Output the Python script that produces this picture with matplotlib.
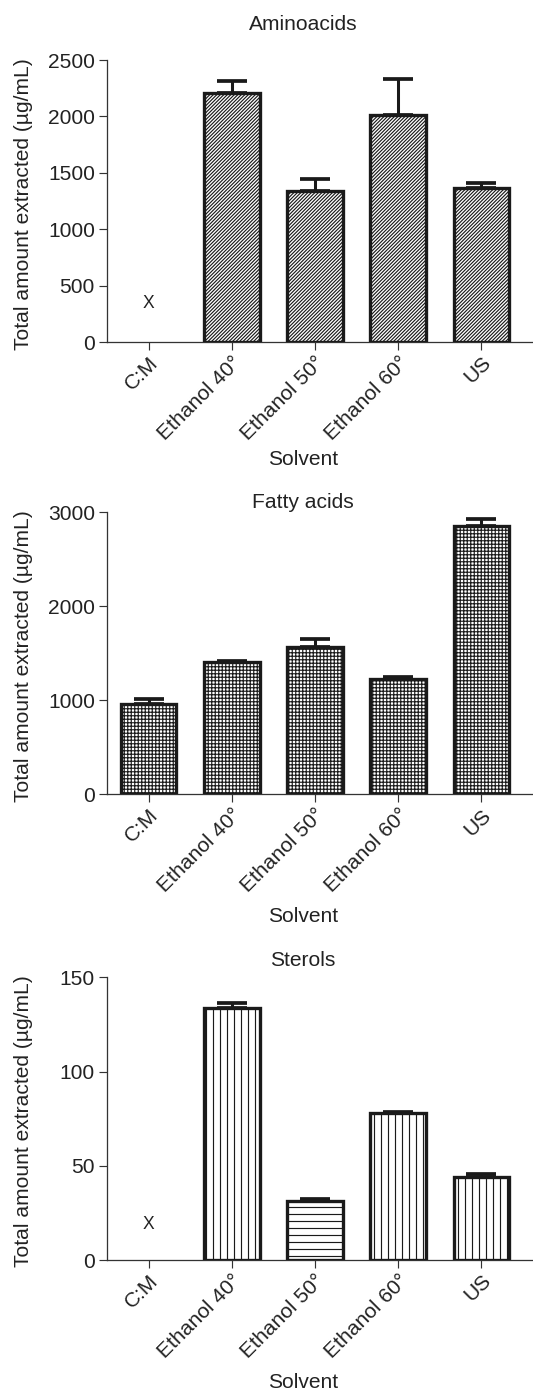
import numpy as np
import matplotlib
matplotlib.use("Agg")
import matplotlib.pyplot as plt

# -----------------------------------------------------------------------------
# Data
# -----------------------------------------------------------------------------

solvents = ["C:M", "Ethanol 40°", "Ethanol 50°", "Ethanol 60°", "US"]

amino_mean = [np.nan, 2210, 1342, 2012, 1368]
amino_err = [np.nan, 100, 106, 317, 45]

fatty_mean = [964, 1411, 1567, 1230, 2851]
fatty_err = [47, 7, 82, 18, 75]

sterol_mean = [np.nan, 133.7, 31.1, 77.8, 44.0]
sterol_err = [np.nan, 2.5, 1.1, 0.9, 1.6]

# missing values are marked with an "X" (position in data units)
amino_x_mark = 337
sterol_x_mark = 18.6

# -----------------------------------------------------------------------------
# Style
# -----------------------------------------------------------------------------

DPI = 84
W, H = 533, 1394
TXT = "#222222"

plt.rcParams.update({
    "font.family": ["Liberation Sans", "DejaVu Sans"],
    "font.size": 18,
    "axes.labelsize": 18,
    "xtick.labelsize": 18,
    "ytick.labelsize": 18,
    "hatch.linewidth": 1.0,
    "text.color": TXT,
    "axes.labelcolor": TXT,
    "xtick.color": "#333333",
    "ytick.color": "#333333",
    "xtick.labelcolor": TXT,
    "ytick.labelcolor": TXT,
})

PANELS = [
    {"title": "Aminoacids", "mean": amino_mean, "err": amino_err,
     "hatch": ["////////"] * 5, "yticks": [0, 500, 1000, 1500, 2000, 2500],
     "ylim": 2500, "xmark": amino_x_mark, "top": 60, "bottom": 342,
     "title_y": 25, "xlabel_y": 459},
    {"title": "Fatty acids", "mean": fatty_mean, "err": fatty_err,
     "hatch": ["++++"] * 5, "yticks": [0, 1000, 2000, 3000],
     "ylim": 3000, "xmark": None, "top": 512.3, "bottom": 794.3,
     "title_y": 502, "xlabel_y": 916},
    {"title": "Sterols", "mean": sterol_mean, "err": sterol_err,
     "hatch": ["||", "||", "--", "||", "||"], "yticks": [0, 50, 100, 150],
     "ylim": 150, "xmark": sterol_x_mark, "top": 977.3, "bottom": 1260,
     "title_y": 960, "xlabel_y": 1383},
]

fig = plt.figure(figsize=(W / DPI, H / DPI), dpi=DPI)

x = np.arange(len(solvents))
left_px = 107
text_x = 303 / W

for p in PANELS:
    ax = fig.add_axes([left_px / W, 1 - p["bottom"] / H,
                       1 - left_px / W, (p["bottom"] - p["top"]) / H])

    mean = np.array(p["mean"], dtype=float)
    err = np.array(p["err"], dtype=float)
    ok = ~np.isnan(mean)

    # bars (missing ones are skipped and get an "X")
    for i in np.where(ok)[0]:
        ax.bar(x[i], mean[i], width=0.67, facecolor="white",
               edgecolor="#1a1a1a", linewidth=2.85, hatch=p["hatch"][i],
               zorder=3)
    ax.errorbar(x[ok], mean[ok], yerr=[np.zeros(ok.sum()), err[ok]],
                fmt="none", ecolor="#1a1a1a", elinewidth=2.6, capsize=13,
                capthick=3.2, zorder=2)

    if p["xmark"] is not None:
        ax.text(0, p["xmark"], "X", ha="center", va="center", fontsize=15)

    ax.set_xlim(-0.5, 4.62)
    ax.set_ylim(0, p["ylim"])
    ax.set_yticks(p["yticks"])
    ax.set_xticks(x)
    ax.set_xticklabels(solvents, rotation=45, ha="right",
                       rotation_mode="anchor")
    ax.tick_params(axis="both", length=6.5, width=1.0, pad=4)
    ax.tick_params(axis="x", pad=3)

    for side in ["top", "right"]:
        ax.spines[side].set_visible(False)
    for side in ["left", "bottom"]:
        ax.spines[side].set_linewidth(1.1)
        ax.spines[side].set_color("#333333")

    ax.set_ylabel("Total amount extracted (µg/mL)")
    ax.yaxis.set_label_coords(-0.174, 0.49)

    fig.text(text_x, 1 - p["title_y"] / H, p["title"], ha="center",
             va="center")
    fig.text(text_x, 1 - p["xlabel_y"] / H, "Solvent", ha="center",
             va="center")

fig.savefig("out.png", dpi=DPI)
